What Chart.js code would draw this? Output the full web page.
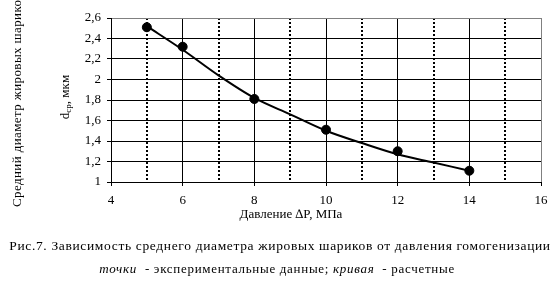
<!DOCTYPE html>
<html>
<head>
<meta charset="utf-8">
<script src="https://cdn.jsdelivr.net/npm/chart.js@4"></script>
<style>
  html, body { margin: 0; padding: 0; background: #fff; }
  #wrap { width: 559px; height: 290px; }
</style>
</head>
<body>
<div id="wrap"><canvas id="chart" width="559" height="290"></canvas></div>
<script>
// experimental points (pressure, MPa -> diameter, um)
const pointX = [5, 6, 8, 10, 12, 14];
const pointY = [2.51, 2.32, 1.81, 1.51, 1.30, 1.11];
// calculated curve
const curveX = [5, 6, 7, 8, 9, 10, 11, 12, 13, 14];
const curveY = [2.52, 2.29, 2.04, 1.82, 1.66, 1.50, 1.38, 1.27, 1.19, 1.11];

const xTicks = [4, 6, 8, 10, 12, 14, 16];
const yMin = 1, yMax = 2.6, yStep = 0.2;

const yTitle = 'Средний диаметр жировых шариков';
const xTitle = 'Давление \u2206P, МПа';
const caption = 'Рис.7. Зависимость среднего диаметра жировых шариков от давления гомогенизации';

const FONT = '"Liberation Serif", "Times New Roman", serif';

function spacing(ctx, px) {
    if ('letterSpacing' in ctx) ctx.letterSpacing = px + 'px';
}

const textPlugin = {
    id: 'texts',
    afterDraw(chart) {
        const ctx = chart.ctx;
        ctx.save();
        ctx.fillStyle = '#000';
        ctx.textBaseline = 'middle';

        // y title, line 1 (runs off the top like the original)
        ctx.save();
        ctx.translate(18, 207);
        ctx.rotate(-Math.PI / 2);
        ctx.font = '13px ' + FONT;
        spacing(ctx, 0.4);
        ctx.textAlign = 'left';
        ctx.fillText(yTitle, 0, 0);
        ctx.restore();

        // y title, line 2 with subscript
        ctx.save();
        ctx.translate(66, 97);
        ctx.rotate(-Math.PI / 2);
        ctx.textAlign = 'left';
        ctx.font = '13px ' + FONT;
        const wD = ctx.measureText('d').width;
        const rest = ', мкм';
        const wR = ctx.measureText(rest).width;
        ctx.font = '9px ' + FONT;
        const wS = ctx.measureText('ср').width;
        let x0 = -(wD + wS + wR) / 2;
        ctx.font = '13px ' + FONT;
        ctx.fillText('d', x0, 0);
        ctx.font = '9px ' + FONT;
        ctx.fillText('ср', x0 + wD, 3);
        ctx.font = '13px ' + FONT;
        ctx.fillText(rest, x0 + wD + wS, 0);
        ctx.restore();

        // x title
        ctx.textAlign = 'center';
        ctx.font = '13px ' + FONT;
        ctx.fillText(xTitle, 291, 215);

        // caption
        ctx.font = '13.5px ' + FONT;
        spacing(ctx, 0.65);
        ctx.fillText(caption, 280, 246);

        const parts = [
            ['точки', true],
            ['  - экспериментальные данные; ', false],
            ['кривая', true],
            ['  - расчетные', false]
        ];
        spacing(ctx, 0.7);
        let total = 0;
        parts.forEach(p => {
            ctx.font = (p[1] ? 'italic ' : '') + '13px ' + FONT;
            total += ctx.measureText(p[0]).width;
        });
        let x = 277 - total / 2;
        ctx.textAlign = 'left';
        parts.forEach(p => {
            ctx.font = (p[1] ? 'italic ' : '') + '13px ' + FONT;
            ctx.fillText(p[0], x, 270);
            x += ctx.measureText(p[0]).width;
        });
        ctx.restore();
    }
};

new Chart(document.getElementById('chart'), {
    type: 'scatter',
    data: {
        datasets: [
            {
                label: 'кривая',
                data: curveX.map((v, i) => ({ x: v, y: curveY[i] })),
                showLine: true,
                borderColor: '#000',
                borderWidth: 2,
                pointRadius: 0,
                cubicInterpolationMode: 'monotone'
            },
            {
                label: 'точки',
                data: pointX.map((v, i) => ({ x: v, y: pointY[i] })),
                backgroundColor: '#000',
                borderColor: '#000',
                pointRadius: 4.5,
                showLine: false
            }
        ]
    },
    plugins: [textPlugin],
    options: {
        responsive: false,
        animation: false,
        layout: { padding: { top: 18, right: 18, left: 0, bottom: 0 } },
        plugins: {
            legend: { display: false },
            tooltip: { enabled: false }
        },
        scales: {
            x: {
                type: 'linear',
                min: 4,
                max: 16,
                afterFit(scale) { scale.height = 108; },
                ticks: {
                    stepSize: 1,
                    autoSkip: false,
                    maxRotation: 0,
                    padding: 7,
                    color: '#000',
                    font: { family: FONT, size: 13 },
                    callback: v => xTicks.includes(v) ? String(v) : ''
                },
                grid: {
                    color: c => c.tick && c.tick.value === 16 ? '#808080' : '#000',
                    lineWidth: c => c.tick && c.tick.value % 2 === 1 ? 2 : 1,
                    tickLength: 4,
                    tickColor: c => c.tick && c.tick.value % 2 === 1 ? 'rgba(0,0,0,0)' : '#000'
                },
                border: {
                    color: '#000',
                    dash: c => c.tick && c.tick.value % 2 === 1 ? [2, 2] : []
                }
            },
            y: {
                min: yMin,
                max: yMax,
                afterFit(scale) { scale.width = 111; },
                ticks: {
                    stepSize: yStep,
                    padding: 6,
                    color: '#000',
                    font: { family: FONT, size: 13 },
                    callback: v => String(Math.round(v * 10) / 10).replace('.', ',')
                },
                grid: {
                    color: c => c.tick && Math.abs(c.tick.value - yMax) < 1e-6 ? '#808080' : '#000',
                    tickLength: 4,
                    tickColor: '#000'
                },
                border: { color: '#000' }
            }
        }
    }
});
</script>
</body>
</html>
